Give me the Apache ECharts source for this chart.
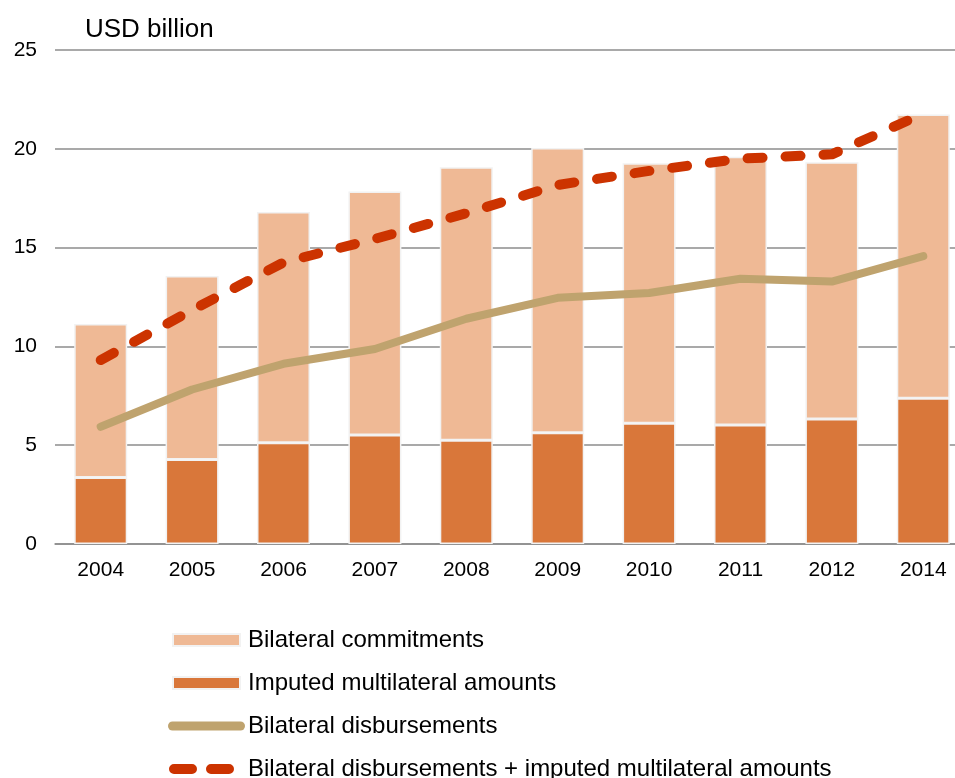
<!DOCTYPE html>
<html>
<head>
<meta charset="utf-8">
<script src="https://cdn.jsdelivr.net/npm/echarts@6/dist/echarts.min.js"></script>
<style>
  html, body { margin: 0; padding: 0; background: #ffffff; }
  #chart { width: 955px; height: 778px; }
</style>
</head>
<body>
<div id="chart"></div>
<script>
const years = ['2004', '2005', '2006', '2007', '2008', '2009', '2010', '2011', '2012', '2014'];
const imputedMultilateral = [3.36, 4.27, 5.12, 5.51, 5.25, 5.63, 6.11, 6.02, 6.33, 7.38];
const bilateralCommitments = [7.77, 9.29, 11.68, 12.33, 13.82, 14.41, 13.16, 13.58, 12.99, 14.35];
const bilateralDisbursements = [5.93, 7.82, 9.12, 9.87, 11.40, 12.46, 12.70, 13.42, 13.28, 14.57];
const disbursementsPlusImputed = [9.31, 11.84, 14.25, 15.44, 16.74, 18.17, 18.88, 19.50, 19.72, 21.78];
const yTicks = [0, 5, 10, 15, 20, 25];

const FONT = 'Liberation Sans, Arial, sans-serif';
const chart = echarts.init(document.getElementById('chart'), null, { renderer: 'canvas' });

// Legend icon shapes (77 x 14 box; invisible end points fix the bounding box)
const rectIcon = 'path://M0,6 L0,6 M77,6 L77,6 M5,0 L72,0 L72,12 L5,12 Z';
const solidLineIcon = 'path://M0,4.5 A4.5,4.5 0 0 1 4.5,0 L72.5,0 A4.5,4.5 0 0 1 72.5,9 L4.5,9 A4.5,4.5 0 0 1 0,4.5 Z';
const dashedLineIcon = 'path://M0,5 L0,5 M77,5 L77,5 M6,0 L24,0 A5,5 0 0 1 24,10 L6,10 A5,5 0 0 1 6,0 Z M43,0 L61,0 A5,5 0 0 1 61,10 L43,10 A5,5 0 0 1 43,0 Z';

chart.setOption({
  animation: false,
  backgroundColor: '#ffffff',
  title: {
    text: 'USD billion',
    left: 80,
    top: 12,
    textStyle: { fontFamily: FONT, fontSize: 26, fontWeight: 'normal', color: '#000000' }
  },
  grid: { left: 55, top: 50, width: 914, height: 494, containLabel: false, outerBoundsMode: 'none' },
  legend: {
    orient: 'vertical',
    left: 167,
    top: 628,
    height: 200,
    padding: 0,
    itemWidth: 77,
    itemHeight: 14,
    itemGap: 19,
    selectedMode: false,
    textStyle: { fontFamily: FONT, fontSize: 24, color: '#000000', padding: [0, 0, 0, -2] },
    data: [
      { name: 'Bilateral commitments', icon: rectIcon },
      { name: 'Imputed multilateral amounts', icon: rectIcon },
      { name: 'Bilateral disbursements', icon: solidLineIcon },
      { name: 'Bilateral disbursements + imputed multilateral amounts', icon: dashedLineIcon }
    ]
  },
  xAxis: {
    type: 'category',
    data: years,
    axisLine: { show: true, lineStyle: { color: '#8c8c8c', width: 1.5 } },
    axisTick: { show: false },
    axisLabel: { fontFamily: FONT, fontSize: 21, color: '#000000', margin: 16 },
    splitLine: { show: false }
  },
  yAxis: {
    type: 'value',
    min: yTicks[0],
    max: yTicks[yTicks.length - 1],
    interval: 5,
    axisLine: { show: false },
    axisTick: { show: false },
    axisLabel: { fontFamily: FONT, fontSize: 21, color: '#000000', margin: 18 },
    splitLine: { show: true, lineStyle: { color: '#8c8c8c', width: 1.5 } }
  },
  series: [
    {
      name: 'Imputed multilateral amounts',
      type: 'bar',
      stack: 'total',
      data: imputedMultilateral,
      barWidth: 53,
      itemStyle: { color: '#D9773A', borderColor: '#f2f2f2', borderWidth: 1.5 }
    },
    {
      name: 'Bilateral commitments',
      type: 'bar',
      stack: 'total',
      data: bilateralCommitments,
      barWidth: 53,
      itemStyle: { color: '#EFB995', borderColor: '#f2f2f2', borderWidth: 1.5 }
    },
    {
      name: 'Bilateral disbursements',
      type: 'line',
      data: bilateralDisbursements,
      symbol: 'none',
      z: 5,
      itemStyle: { color: '#BFA36E' },
      lineStyle: { color: '#BFA36E', width: 8, cap: 'round', join: 'round' }
    },
    {
      name: 'Bilateral disbursements + imputed multilateral amounts',
      type: 'line',
      data: disbursementsPlusImputed,
      symbol: 'none',
      z: 6,
      itemStyle: { color: '#CC3300' },
      lineStyle: { color: '#CC3300', width: 10, type: [15, 23], cap: 'round', join: 'round' }
    }
  ]
});
</script>
</body>
</html>
